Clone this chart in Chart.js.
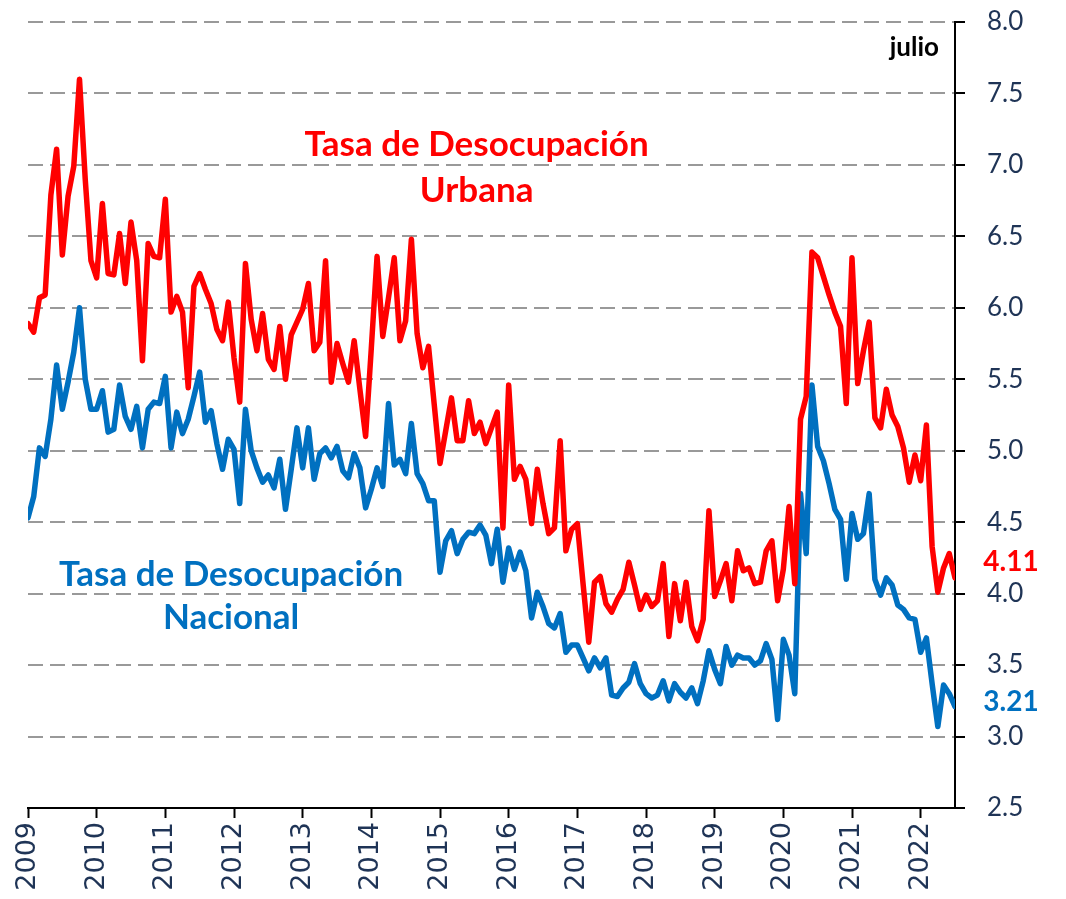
<!DOCTYPE html>
<html lang="es">
<head>
<meta charset="utf-8">
<title>Tasa de Desocupación</title>
<script src="https://cdn.jsdelivr.net/npm/chart.js@4.4.1/dist/chart.umd.min.js"></script>
<style>
  html, body { margin: 0; padding: 0; background: #fff; }
  #wrap { width: 1066px; height: 899px; }
</style>
</head>
<body>
<div id="wrap"><canvas id="chart-desocupacion" width="1066" height="899"></canvas></div>
<script>
/* ── DATOS ───────────────────────────────────────────────────── */
// Serie mensual, enero 2009 – julio 2022
const years = ['2009','2010','2011','2012','2013','2014','2015','2016','2017','2018','2019','2020','2021','2022'];

const urbana = [
  5.89, 5.83, 6.07, 6.09, 6.79, 7.11, 6.37, 6.78, 6.99, 7.60, 6.90, 6.33,
  6.21, 6.73, 6.24, 6.23, 6.52, 6.17, 6.60, 6.33, 5.63, 6.45, 6.36, 6.35,
  6.76, 5.97, 6.08, 5.97, 5.44, 6.15, 6.24, 6.13, 6.03, 5.85, 5.77, 6.04,
  5.65, 5.34, 6.31, 5.92, 5.70, 5.96, 5.64, 5.57, 5.87, 5.50, 5.81, 5.90,
  5.99, 6.17, 5.70, 5.76, 6.33, 5.48, 5.75, 5.61, 5.48, 5.77, 5.43, 5.10,
  5.72, 6.36, 5.80, 6.07, 6.35, 5.77, 5.91, 6.48, 5.82, 5.58, 5.73, 5.32,
  4.91, 5.14, 5.37, 5.07, 5.07, 5.35, 5.12, 5.20, 5.05, 5.16, 5.27, 4.46,
  5.46, 4.80, 4.89, 4.80, 4.49, 4.87, 4.63, 4.42, 4.46, 5.07, 4.30, 4.45,
  4.49, 4.07, 3.66, 4.08, 4.12, 3.93, 3.87, 3.96, 4.03, 4.22, 4.06, 3.89,
  3.99, 3.91, 3.95, 4.21, 3.70, 4.07, 3.81, 4.08, 3.77, 3.67, 3.82, 4.58,
  3.98, 4.09, 4.21, 3.95, 4.30, 4.16, 4.18, 4.07, 4.08, 4.30, 4.37, 3.95,
  4.17, 4.61, 4.07, 5.22, 5.38, 6.39, 6.35, 6.22, 6.09, 5.97, 5.87, 5.33,
  6.35, 5.47, 5.70, 5.90, 5.23, 5.16, 5.43, 5.25, 5.17, 5.02, 4.78, 4.97,
  4.79, 5.18, 4.33, 4.01, 4.18, 4.28, 4.11
];

const nacional = [
  4.53, 4.68, 5.02, 4.96, 5.22, 5.60, 5.29, 5.48, 5.69, 6.00, 5.50, 5.29,
  5.29, 5.42, 5.13, 5.15, 5.46, 5.24, 5.15, 5.31, 5.02, 5.29, 5.34, 5.33,
  5.52, 5.02, 5.27, 5.12, 5.22, 5.38, 5.55, 5.20, 5.28, 5.05, 4.87, 5.08,
  5.01, 4.63, 5.29, 5.00, 4.88, 4.78, 4.83, 4.74, 4.94, 4.59, 4.87, 5.16,
  4.88, 5.16, 4.80, 4.98, 5.02, 4.95, 5.03, 4.86, 4.81, 4.98, 4.88, 4.60,
  4.73, 4.88, 4.75, 5.33, 4.90, 4.94, 4.84, 5.19, 4.84, 4.77, 4.65, 4.65,
  4.15, 4.37, 4.44, 4.28, 4.38, 4.43, 4.42, 4.48, 4.41, 4.21, 4.45, 4.08,
  4.32, 4.17, 4.29, 4.16, 3.83, 4.01, 3.91, 3.79, 3.76, 3.86, 3.59, 3.64,
  3.64, 3.55, 3.46, 3.55, 3.48, 3.55, 3.29, 3.28, 3.34, 3.38, 3.51, 3.37,
  3.30, 3.27, 3.29, 3.39, 3.25, 3.37, 3.31, 3.27, 3.34, 3.23, 3.39, 3.60,
  3.47, 3.37, 3.63, 3.50, 3.57, 3.55, 3.55, 3.50, 3.53, 3.65, 3.54, 3.12,
  3.68, 3.57, 3.30, 4.70, 4.28, 5.46, 5.03, 4.93, 4.77, 4.59, 4.52, 4.10,
  4.56, 4.38, 4.42, 4.70, 4.10, 3.99, 4.11, 4.06, 3.92, 3.89, 3.83, 3.82,
  3.59, 3.69, 3.37, 3.07, 3.36, 3.30, 3.21
];

const Y_MIN = 2.5, Y_MAX = 8.0, Y_STEP = 0.5;

/* ── ESTILOS ─────────────────────────────────────────────────── */
const ROJO  = '#FF0000';
const AZUL  = '#0070C0';
const TINTA = '#1F3456';
const GRIS  = '#999999';

// Textos dentro del gráfico (posición en mes / valor del eje)
const notas = [
  { texto: 'Tasa de Desocupación', color: ROJO, mes: 78.4, valor: 7.14, font: 'bold 35px Lato' },
  { texto: 'Urbana',               color: ROJO, mes: 78.4, valor: 6.82, font: 'bold 35px Lato' },
  { texto: 'Tasa de Desocupación', color: AZUL, mes: 35.5, valor: 4.13, font: 'bold 35px Lato' },
  { texto: 'Nacional',             color: AZUL, mes: 35.5, valor: 3.83, font: 'bold 35px Lato' },
  { texto: 'julio',                color: '#000', mes: 154.9, valor: 7.82, font: 'bold 26px Lato' },
];

/* ── PLUGIN: etiquetas de texto ──────────────────────────────── */
const etiquetas = {
  id: 'etiquetas',
  afterDatasetsDraw(chart) {
    const { ctx, chartArea, scales: { x, y } } = chart;
    ctx.save();
    ctx.textAlign = 'center';
    ctx.textBaseline = 'middle';
    notas.forEach(n => {
      ctx.font = n.font;
      ctx.fillStyle = n.color;
      ctx.fillText(n.texto, x.getPixelForValue(n.mes), y.getPixelForValue(n.valor));
    });
    // último dato de cada serie, a la derecha del eje
    [[urbana, ROJO, 0.11], [nacional, AZUL, 0.03]].forEach(([serie, color, dy]) => {
      const v = serie[serie.length - 1];
      ctx.font = 'bold 28px Lato';
      ctx.fillStyle = color;
      ctx.fillText(v.toFixed(2), chartArea.right + 56, y.getPixelForValue(v + dy));
    });
    ctx.restore();
  }
};

/* ── GRÁFICO ─────────────────────────────────────────────────── */
const asPoints = serie => serie.map((v, i) => ({ x: i, y: v }));

new Chart(document.getElementById('chart-desocupacion'), {
  type: 'line',
  data: {
    datasets: [
      {
        label: 'Tasa de Desocupación Urbana',
        data: asPoints(urbana),
        borderColor: ROJO, borderWidth: 5.5,
        borderJoinStyle: 'round', borderCapStyle: 'round',
        pointRadius: 0, tension: 0,
      },
      {
        label: 'Tasa de Desocupación Nacional',
        data: asPoints(nacional),
        borderColor: AZUL, borderWidth: 5.5,
        borderJoinStyle: 'round', borderCapStyle: 'round',
        pointRadius: 0, tension: 0,
      },
    ]
  },
  options: {
    responsive: false,
    animation: false,
    devicePixelRatio: 1,
    layout: { padding: { left: 28, top: 22, right: 0, bottom: 0 } },
    plugins: {
      legend:  { display: false },
      tooltip: { enabled: false },
    },
    scales: {
      x: {
        type: 'linear',
        min: 0, max: urbana.length - 1,
        afterBuildTicks: s => { s.ticks = years.map((_, k) => ({ value: k * 12 })); },
        afterFit: s => { s.height = 91; },
        grid: { drawOnChartArea: false, drawTicks: true, tickLength: 10, tickColor: '#000', tickWidth: 2 },
        border: { display: true, color: '#000', width: 2 },
        ticks: {
          autoSkip: false, minRotation: 90, maxRotation: 90, padding: 4,
          color: TINTA, font: { family: 'DejaVu Sans', size: 27 },
          callback: v => years[v / 12],
        },
      },
      y: {
        position: 'right',
        min: Y_MIN, max: Y_MAX,
        // el padding de las etiquetas no debe empujar el área del gráfico
        afterFit: s => { s.width = 111; s.paddingTop = 16; s.paddingBottom = 16; },
        grid: {
          color: c => (c.tick && c.tick.value === Y_MIN) ? 'rgba(0,0,0,0)' : GRIS,
          lineWidth: 2, drawTicks: true, tickLength: 10, tickColor: '#000', tickWidth: 2,
        },
        border: { display: true, color: '#000', width: 2, dash: [15, 7] },
        ticks: {
          stepSize: Y_STEP, padding: 22,
          color: TINTA, font: { family: 'Lato', size: 26 },
          callback: v => v.toFixed(1),
        },
      },
    },
  },
  plugins: [etiquetas],
});
</script>
</body>
</html>
